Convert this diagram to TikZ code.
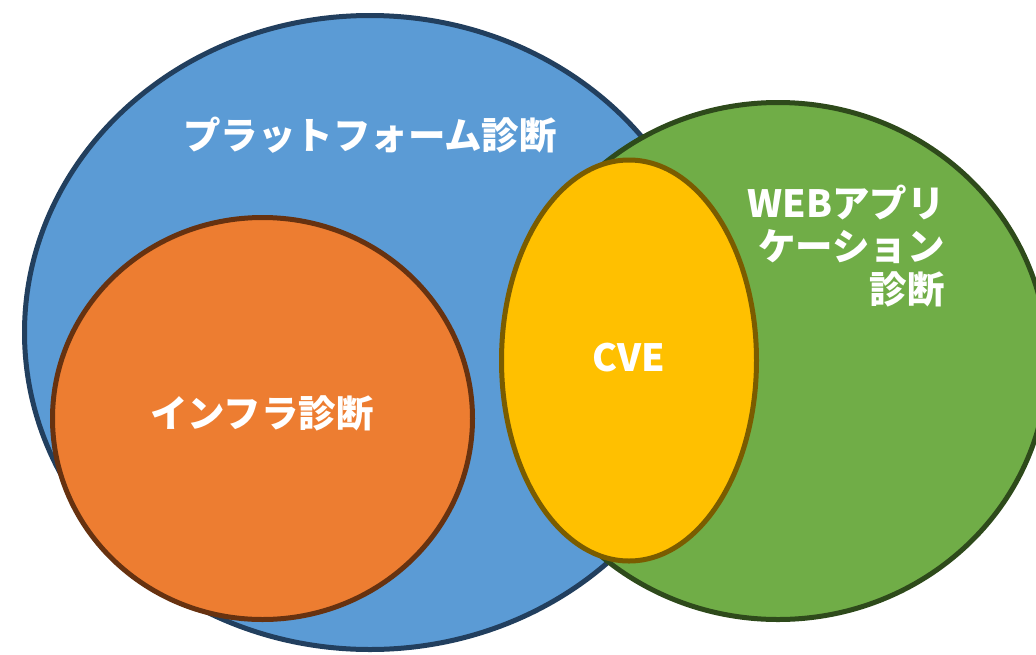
\documentclass[tikz,border=0pt]{standalone}
\usepackage{fontspec}
\newfontfamily\jp{Noto Sans CJK JP}
\definecolor{bluefill}{HTML}{5B9BD5}
\definecolor{blueline}{HTML}{223F5E}
\definecolor{greenfill}{HTML}{70AD47}
\definecolor{greenline}{HTML}{2E4A1B}
\definecolor{orangefill}{HTML}{ED7D31}
\definecolor{orangeline}{HTML}{673210}
\definecolor{yellowfill}{HTML}{FFC000}
\definecolor{yellowline}{HTML}{7A5C00}
\tikzset{
  setshape/.style={line width=5pt},
  lbl/.style={text=white, font=\jp\bfseries\fontsize{37.5}{43}\selectfont, inner sep=0pt}
}
\begin{document}
\begin{tikzpicture}[x=1pt,y=-1pt]
\useasboundingbox (0,0) rectangle (1036,654);
\clip (0,0) rectangle (1036,654);
% outer sets
\draw[setshape, fill=bluefill, draw=blueline] (370,332.5) ellipse [x radius=345.5, y radius=317];
\draw[setshape, fill=greenfill, draw=greenline] (778,361) ellipse [x radius=269.5, y radius=258.5];
% inner sets
\draw[setshape, fill=orangefill, draw=orangeline] (262.5,418.5) ellipse [x radius=210, y radius=201];
\draw[setshape, fill=yellowfill, draw=yellowline] (629,360.5) ellipse [x radius=127.5, y radius=200.5];
% labels
\node[lbl] (platform) at (370,135) {プラットフォーム診断};
\node[lbl] (infra) at (262,413) {インフラ診断};
\node[lbl] (cve) at (629,358) {CVE};
\node[lbl, align=right, anchor=north east] (webapp) at (945,185) {WEBアプリ\\ケーション\\診断};
\end{tikzpicture}
\end{document}
